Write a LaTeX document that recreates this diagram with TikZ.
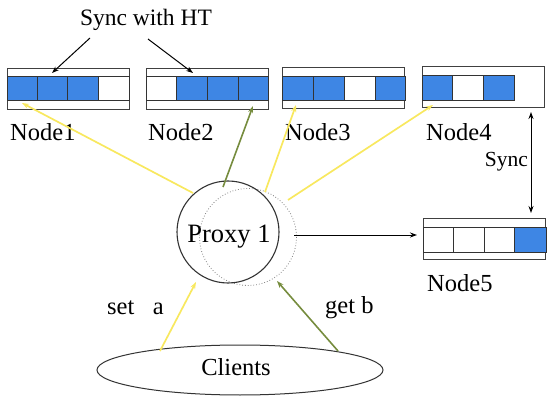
\documentclass[tikz,border=0pt]{standalone}
\usepackage{fontspec}
\setmainfont{Liberation Serif}
\usetikzlibrary{arrows.meta,shapes.geometric}
\definecolor{cellblue}{RGB}{62,134,228}
\definecolor{lyellow}{RGB}{248,232,95}
\definecolor{olive}{RGB}{118,140,62}
\tikzset{
  box/.style={draw=black!75, line width=0.9pt, minimum width=122pt, minimum height=41pt, inner sep=0pt},
  bcell/.style={draw=black!80, line width=0.8pt, fill=cellblue},
  wcell/.style={draw=black!80, line width=0.8pt, fill=white},
  lbl/.style={font=\fontsize{24.5}{28}\selectfont, inner sep=0pt},
  yline/.style={draw=lyellow, line width=1.7pt, -{Stealth[length=7pt,width=5pt]}},
  gline/.style={draw=olive, line width=1.6pt, -{Stealth[length=7pt,width=5pt]}},
  karrow/.style={draw=black, line width=1pt, -{Stealth[length=7pt,width=5pt]}},
}
\begin{document}
\begin{tikzpicture}[x=1pt,y=-1pt]
\useasboundingbox (0,0) rectangle (558,420);
% Node boxes
\node[box] (n1) at (68,88.5) {};
\draw[bcell] (7,76) rectangle (37,100);
\draw[bcell] (37,76) rectangle (67,100);
\draw[bcell] (67,76) rectangle (98,100);
\draw[wcell] (98,76) rectangle (129,100);
\node[box] (n2) at (207,88.5) {};
\draw[wcell] (146,76) rectangle (176,100);
\draw[bcell] (176,76) rectangle (207,100);
\draw[bcell] (207,76) rectangle (238,100);
\draw[bcell] (238,76) rectangle (268,100);
\node[box] (n3) at (343.5,88) {};
\draw[bcell] (282,76) rectangle (313,100);
\draw[bcell] (313,76) rectangle (344,100);
\draw[wcell] (344,76) rectangle (375,100);
\draw[bcell] (375,76) rectangle (405,100);
\node[box] (n4) at (483.5,87) {};
\draw[bcell] (422,75) rectangle (452,100);
\draw[wcell] (452,75) rectangle (483,100);
\draw[bcell] (483,75) rectangle (514,100);
\node[box] (n5) at (484.5,239) {};
\draw[wcell] (423,227) rectangle (453,252);
\draw[wcell] (453,227) rectangle (484,252);
\draw[wcell] (484,227) rectangle (514,252);
\draw[bcell] (514,227) rectangle (546,252);
% labels
\node[lbl, anchor=west] (l1) at (10,132) {Node1};
\node[lbl, anchor=west] (l2) at (148,132) {Node2};
\node[lbl, anchor=west] (l3) at (285,132) {Node3};
\node[lbl, anchor=west] (l4) at (426,132) {Node4};
\node[lbl, anchor=west] (l5) at (427,283) {Node5};
\node[lbl, font=\fontsize{23.5}{27}\selectfont] (sht) at (146,20) {Sync with HT};
\node[lbl, font=\fontsize{21.5}{24}\selectfont, anchor=east] (sync) at (528,162) {Sync};
% proxy
\draw[gray, line width=0.8pt, dotted] (248,237) circle (48.5);
\node[draw=black!80, line width=1.1pt, circle, minimum size=102pt, inner sep=0pt] (proxy) at (228,232) {};
\node[lbl, font=\fontsize{26.5}{30}\selectfont] (ptxt) at (229,237) {Proxy 1};
% clients
\node[draw=black!80, line width=1pt, ellipse, minimum width=286pt, minimum height=50pt, inner sep=0pt] (clients) at (240,370) {};
\node[lbl] (ctxt) at (236,367) {Clients};
\node[lbl, anchor=west] (seta) at (107,308) {set\ \ \ a};
\node[lbl, anchor=west] (getb) at (325,308) {get b};
% coordinates
\coordinate (e1) at (22,103);
\coordinate (s1) at (193,193);
\coordinate (e2) at (253,106);
\coordinate (s2) at (223,187);
\coordinate (e3) at (296,105);
\coordinate (s3) at (265,192);
\coordinate (e4) at (433,105);
\coordinate (s4) at (288,200);
\coordinate (ca) at (160,351);
\coordinate (pa) at (196,282);
\coordinate (cb) at (338,351);
\coordinate (pb) at (277,281);
\coordinate (ht1) at (90,38);
\coordinate (ht2) at (148,39);
\coordinate (t1) at (52,73);
\coordinate (t2) at (193,73);
\coordinate (p5) at (294,235);
\coordinate (q5) at (417,235);
\coordinate (sy1) at (531,112);
\coordinate (sy2) at (531,213);
% connectors
\draw[yline] (s1) -- (e1);
\draw[gline] (s2) -- (e2);
\draw[yline] (s3) -- (e3);
\draw[yline] (s4) -- (e4);
\draw[yline] (ca) -- (pa);
\draw[gline] (cb) -- (pb);
\draw[karrow] (ht1) -- (t1);
\draw[karrow] (ht2) -- (t2);
\draw[karrow] (p5) -- (q5);
\draw[draw=black, line width=1pt, {Stealth[length=7pt,width=5pt]}-{Stealth[length=7pt,width=5pt]}] (sy1) -- (sy2);
\end{tikzpicture}
\end{document}
